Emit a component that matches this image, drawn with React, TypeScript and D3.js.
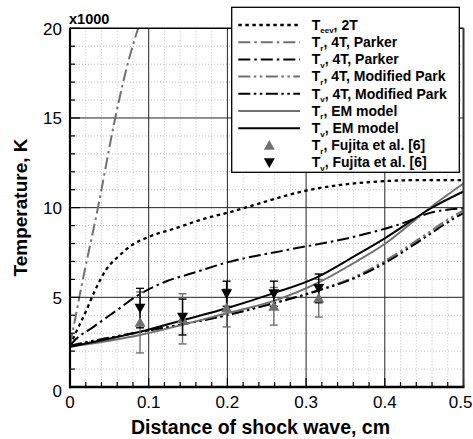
import React from "react";
import * as d3 from "d3";

// ---------- data ----------
const tEev2T: [number, number][] = [[0,2300],[0.006,2900],[0.019,4100],[0.032,5400],[0.046,6550],[0.062,7300],[0.08,7950],[0.1,8370],[0.134,8850],[0.172,9400],[0.206,9780],[0.241,10240],[0.3,10950],[0.35,11300],[0.4,11480],[0.45,11540],[0.5,11540]];
const tr4TParker: [number, number][] = [[0,2300],[0.015,5700],[0.036,10100],[0.057,14900],[0.072,17800],[0.088,20200]];
const tv4TParker: [number, number][] = [[0,2300],[0.0064,2620],[0.028,3300],[0.057,4200],[0.087,5130],[0.121,5870],[0.155,6340],[0.2,6950],[0.276,7640],[0.361,8380],[0.416,9030],[0.463,9770],[0.5,9960]];
const tr4TModPark: [number, number][] = [[0,2300],[0.05,2750],[0.1,3150],[0.15,3560],[0.191,3940],[0.259,4690],[0.318,5440],[0.361,6130],[0.403,7100],[0.446,8330],[0.488,9550],[0.5,9850]];
const tv4TModPark: [number, number][] = [[0,2300],[0.05,2750],[0.1,3150],[0.15,3550],[0.191,3920],[0.259,4665],[0.318,5406],[0.361,6060],[0.403,6985],[0.446,8194],[0.488,9400],[0.5,9700]];
const trEM: [number, number][] = [[0,2250],[0.089,2900],[0.144,3480],[0.199,4110],[0.259,4800],[0.318,5870],[0.36,6900],[0.398,7920],[0.462,10150],[0.5,11350]];
const tvEM: [number, number][] = [[0,2250],[0.089,3080],[0.144,3735],[0.199,4390],[0.258,5220],[0.313,6100],[0.36,7260],[0.4,8290],[0.462,10050],[0.5,10900]];

const fujitaX = [0.089, 0.143, 0.199, 0.259, 0.316];
const fujitaTr = [3600, 3800, 4400, 4500, 4950];
const fujitaTrErr = [1700, 1400, 1050, 1050, 1050];
const fujitaTv = [4400, 3900, 5200, 5200, 5500];
const fujitaTvErr = [1100, 1000, 700, 700, 800];

const xTicks = [0, 0.1, 0.2, 0.3, 0.4, 0.5];
const xTickLabels = ["0", "0.1", "0.2", "0.3", "0.4", "0.5"];
const yTicks = [0, 5000, 10000, 15000, 20000];
const yTickLabels = ["0", "5", "10", "15", "20"];

const GRAY = "#707070";
const FONT = "'Liberation Sans', Arial, Helvetica, sans-serif";

const DOT = "3.5,3.5";
const DASHDOT = "12,4,2.5,4";
const DASHDOTDOT = "12,3.5,2.5,3.5,2.5,3.5";

type Series = { data: [number, number][]; color: string; dash: string | null; width: number; main: string; sub: string; rest: string };
const series: Series[] = [
  { data: tEev2T, color: "#000", dash: DOT, width: 2.3, main: "T", sub: "eev", rest: ", 2T" },
  { data: tr4TParker, color: GRAY, dash: DASHDOT, width: 2, main: "T", sub: "r", rest: ", 4T, Parker" },
  { data: tv4TParker, color: "#000", dash: DASHDOT, width: 2, main: "T", sub: "v", rest: ", 4T, Parker" },
  { data: tr4TModPark, color: GRAY, dash: DASHDOTDOT, width: 2, main: "T", sub: "r", rest: ", 4T, Modified Park" },
  { data: tv4TModPark, color: "#000", dash: DASHDOTDOT, width: 2, main: "T", sub: "v", rest: ", 4T, Modified Park" },
  { data: trEM, color: GRAY, dash: null, width: 2, main: "T", sub: "r", rest: ", EM model" },
  { data: tvEM, color: "#000", dash: null, width: 2, main: "T", sub: "v", rest: ", EM model" },
];

export default function App() {
  const L = 70, R = 463.5, T = 28.3, B = 387;
  const x = d3.scaleLinear().domain([0, 0.5]).range([L, R]);
  const y = d3.scaleLinear().domain([0, 20000]).range([B, T]);
  const line = d3.line<[number, number]>().x(d => x(d[0])).y(d => y(d[1])).curve(d3.curveMonotoneX);

  const minorX = d3.range(0, 0.5001, 0.02).filter(v => Math.abs(v * 10 - Math.round(v * 10)) > 1e-6);
  const minorY = d3.range(0, 20001, 1000).filter(v => v % 5000 !== 0);
  const tri = (cx: number, cy: number, up: boolean, s = 5.5) =>
    up ? `M${cx},${cy - s}L${cx + s},${cy + s * 0.8}L${cx - s},${cy + s * 0.8}Z`
       : `M${cx},${cy + s}L${cx + s},${cy - s * 0.8}L${cx - s},${cy - s * 0.8}Z`;

  const legX0 = 231.7, legY0 = 7.3, legW = 227.6, legH = 165;
  const rowY = (i: number) => 25 + i * 17.2;

  return (
    <svg width={473} height={439} style={{ position: "absolute", left: 0, top: 0, background: "#fff" }} fontFamily={FONT}>
      <defs>
        <clipPath id="plotclip"><rect x={L} y={T} width={R - L} height={B - T} /></clipPath>
      </defs>
      <rect x={0} y={0} width={473} height={439} fill="#fff" />
      {/* minor grid */}
      {minorX.map((v, i) => (
        <line key={"mx" + i} x1={x(v)} x2={x(v)} y1={T} y2={B} stroke="#b0b0b0" strokeWidth={0.8} strokeDasharray="1,2" />
      ))}
      {minorY.map((v, i) => (
        <line key={"my" + i} x1={L} x2={R} y1={y(v)} y2={y(v)} stroke="#b0b0b0" strokeWidth={0.8} strokeDasharray="1,2" />
      ))}
      {/* major grid */}
      {xTicks.slice(1, -1).map((v, i) => (
        <line key={"gx" + i} x1={x(v)} x2={x(v)} y1={T} y2={B} stroke="#222" strokeWidth={1} />
      ))}
      {yTicks.slice(1, -1).map((v, i) => (
        <line key={"gy" + i} x1={L} x2={R} y1={y(v)} y2={y(v)} stroke="#222" strokeWidth={1} />
      ))}
      {/* curves */}
      <g clipPath="url(#plotclip)">
        {series.map((s, i) => (
          <path key={"s" + i} d={line(s.data) || ""} fill="none" stroke={s.color} strokeWidth={s.width}
            strokeDasharray={s.dash || undefined} />
        ))}
      </g>
      {/* error bars */}
      {fujitaX.map((v, i) => {
        const cx = x(v);
        return (
          <g key={"eb" + i}>
            <line x1={cx} x2={cx} y1={y(fujitaTr[i] - fujitaTrErr[i])} y2={y(fujitaTr[i] + fujitaTrErr[i])} stroke={GRAY} strokeWidth={1.4} />
            <line x1={cx - 4} x2={cx + 4} y1={y(fujitaTr[i] - fujitaTrErr[i])} y2={y(fujitaTr[i] - fujitaTrErr[i])} stroke={GRAY} strokeWidth={1.4} />
            <line x1={cx - 4} x2={cx + 4} y1={y(fujitaTr[i] + fujitaTrErr[i])} y2={y(fujitaTr[i] + fujitaTrErr[i])} stroke={GRAY} strokeWidth={1.4} />
            <line x1={cx} x2={cx} y1={y(fujitaTv[i] - fujitaTvErr[i])} y2={y(fujitaTv[i] + fujitaTvErr[i])} stroke="#000" strokeWidth={1.4} />
            <line x1={cx - 4} x2={cx + 4} y1={y(fujitaTv[i] - fujitaTvErr[i])} y2={y(fujitaTv[i] - fujitaTvErr[i])} stroke="#000" strokeWidth={1.4} />
            <line x1={cx - 4} x2={cx + 4} y1={y(fujitaTv[i] + fujitaTvErr[i])} y2={y(fujitaTv[i] + fujitaTvErr[i])} stroke="#000" strokeWidth={1.4} />
          </g>
        );
      })}
      {fujitaX.map((v, i) => (
        <g key={"pt" + i}>
          <path d={tri(x(v), y(fujitaTr[i]), true)} fill={GRAY} />
          <path d={tri(x(v), y(fujitaTv[i]), false)} fill="#000" />
        </g>
      ))}
      {/* ticks */}
      {d3.range(0, 0.5001, 0.02).map((v, i) => {
        const major = Math.abs(v * 10 - Math.round(v * 10)) < 1e-6;
        return <line key={"tx" + i} x1={x(v)} x2={x(v)} y1={B} y2={B - (major ? 9 : 5)} stroke="#000" strokeWidth={1.2} />;
      })}
      {d3.range(0, 20001, 1000).map((v, i) => {
        const major = v % 5000 === 0;
        return <line key={"ty" + i} x1={L} x2={L + (major ? 10 : 5)} y1={y(v)} y2={y(v)} stroke="#000" strokeWidth={1.2} />;
      })}
      {/* frame */}
      <line x1={L} x2={R} y1={T} y2={T} stroke="#000" strokeWidth={1.5} />
      <line x1={R} x2={R} y1={T} y2={B} stroke="#333" strokeWidth={2} />
      <line x1={L} x2={L} y1={T - 0.7} y2={B + 1.2} stroke="#000" strokeWidth={2.2} />
      <line x1={L - 1} x2={R + 1} y1={B} y2={B} stroke="#000" strokeWidth={2.5} />
      {/* tick labels */}
      {xTicks.map((v, i) => (
        i === xTicks.length - 1
          ? <text key={"xl" + i} x={472.5} y={408} textAnchor="end" fontSize={17}>{xTickLabels[i]}</text>
          : <text key={"xl" + i} x={x(v)} y={408} textAnchor="middle" fontSize={17}>{xTickLabels[i]}</text>
      ))}
      {yTicks.map((v, i) => (
        <text key={"yl" + i} x={62} y={y(v) + (v === 0 ? 10 : 6.3)} textAnchor="end" fontSize={17}>{yTickLabels[i]}</text>
      ))}
      <text x={69} y={24} fontSize={14.5} fontWeight="bold">x1000</text>
      {/* axis titles */}
      <text x={260.5} y={433.5} textAnchor="middle" fontSize={19.5} fontWeight="bold">Distance of shock wave, cm</text>
      <text transform={`translate(27,207.5) rotate(-90)`} textAnchor="middle" fontSize={19} fontWeight="bold">Temperature, K</text>
      {/* legend */}
      <rect x={legX0} y={legY0} width={legW} height={legH} fill="#fff" stroke="#000" strokeWidth={1.3} />
      {series.map((s, i) => (
        <g key={"lg" + i}>
          <line x1={238.3} x2={300} y1={rowY(i)} y2={rowY(i)} stroke={s.color} strokeWidth={s.width} strokeDasharray={s.dash || undefined} />
          <text x={311.7} y={rowY(i) + 4.8} fontSize={14} fontWeight="bold">
            <tspan>{s.main}</tspan>
            <tspan dy={3.5} fontSize={8}>{s.sub}</tspan>
            <tspan dy={-3.5}>{s.rest}</tspan>
          </text>
        </g>
      ))}
      <path d={tri(269.3, rowY(7), true)} fill={GRAY} />
      <text x={311.7} y={rowY(7) + 4.8} fontSize={14} fontWeight="bold">
        <tspan>T</tspan><tspan dy={3.5} fontSize={8}>r</tspan><tspan dy={-3.5}>, Fujita et al. [6]</tspan>
      </text>
      <path d={tri(269.3, rowY(8), false)} fill="#000" />
      <text x={311.7} y={rowY(8) + 4.8} fontSize={14} fontWeight="bold">
        <tspan>T</tspan><tspan dy={3.5} fontSize={8}>v</tspan><tspan dy={-3.5}>, Fujita et al. [6]</tspan>
      </text>
    </svg>
  );
}
